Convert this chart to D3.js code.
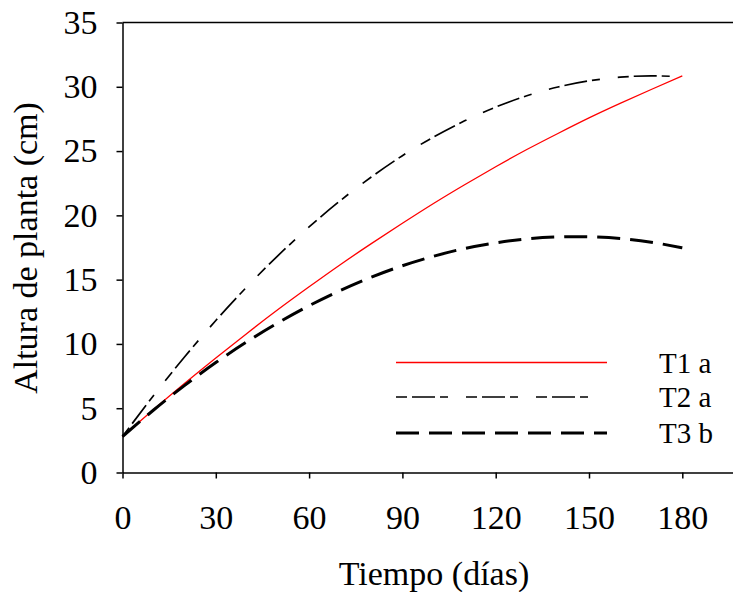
<!DOCTYPE html>
<html><head><meta charset="utf-8">
<script src="https://cdn.jsdelivr.net/npm/d3@7"></script>
</head>
<body style="margin:0">
<svg id="chart" width="733" height="592"></svg>
<script>
// ---- data ----
const days = [0,10,20,30,40,50,60,70,80,90,100,110,120,130,140,150,160,170,180];
const t1 = [2.8,4.90,6.94,8.91,10.82,12.67,14.44,16.16,17.80,19.38,20.92,22.38,23.78,25.12,26.37,27.58,28.71,29.79,30.85];
const t2 = [2.8,5.99,9.00,11.82,14.44,16.87,19.10,21.14,22.98,24.64,26.09,27.35,28.42,29.30,29.98,30.46,30.75,30.85,30.78];
const t3 = [2.8,4.86,6.78,8.55,10.17,11.64,12.97,14.15,15.19,16.08,16.82,17.42,17.86,18.17,18.32,18.33,18.20,17.91,17.48];
const seriesNames = ["T1 a","T2 a","T3 b"];
const xTicks = [0,30,60,90,120,150,180];
const yTicks = [0,5,10,15,20,25,30,35];

const FONT = "Liberation Serif";
const styles = [
  {stroke:"#ff0000", width:1.3, dash:null},
  {stroke:"#000", width:1.7, dash:"11,5,23,5,8,18"},
  {stroke:"#000", width:3, dash:"23,10"}
];
const seriesVals = [t1,t2,t3];

const svg = d3.select("#chart");
const x = d3.scaleLinear().domain([0,196.3]).range([122.5,733]);
const y = d3.scaleLinear().domain([0,35]).range([472.5,22.5]);

// top border
svg.append("line").attr("x1",122.5).attr("x2",733).attr("y1",y(35)).attr("y2",y(35))
  .attr("stroke","#000").attr("stroke-width",1.5);

// x axis
const gx = svg.append("g").attr("transform",`translate(0,${y(0)})`);
gx.call(d3.axisBottom(x).tickValues(xTicks).tickSize(6).tickSizeOuter(0).tickPadding(26));
// y axis
const gy = svg.append("g").attr("transform",`translate(${x(0)},0)`);
gy.call(d3.axisLeft(y).tickValues(yTicks).tickSize(6).tickSizeOuter(0).tickPadding(19));
[gx,gy].forEach(g=>{
  g.attr("font-family",FONT).attr("font-size",34);
  g.select(".domain").attr("stroke","#000").attr("stroke-width",1.5);
  g.selectAll(".tick line").attr("stroke","#000").attr("stroke-width",1.5);
  g.selectAll(".tick text").attr("fill","#000");
});

const line = d3.line().x((d,i)=>x(days[i])).y(d=>y(d)).curve(d3.curveNatural);
seriesVals.forEach((vals,k)=>{
  svg.append("path").datum(vals).attr("d",line).attr("fill","none")
    .attr("stroke",styles[k].stroke).attr("stroke-width",styles[k].width)
    .attr("stroke-dasharray",styles[k].dash);
});

// legend
const legY = [362.5,397,433];
const legEnd = [607,593,607];
seriesNames.forEach((n,k)=>{
  svg.append("line").attr("x1",396).attr("x2",legEnd[k]).attr("y1",legY[k]).attr("y2",legY[k])
    .attr("stroke",styles[k].stroke).attr("stroke-width",styles[k].width)
    .attr("stroke-dasharray",styles[k].dash);
  svg.append("text").attr("x",659).attr("y",legY[k]+10)
    .attr("font-family",FONT).attr("font-size",29).text(n);
});

// axis titles
svg.append("text").attr("x",434).attr("y",585).attr("text-anchor","middle")
  .attr("font-family",FONT).attr("font-size",34).text("Tiempo (días)");
svg.append("text").attr("transform","translate(37,248) rotate(-90)")
  .attr("text-anchor","middle").attr("font-family",FONT).attr("font-size",34).text("Altura de planta (cm)");
</script>
</body></html>
